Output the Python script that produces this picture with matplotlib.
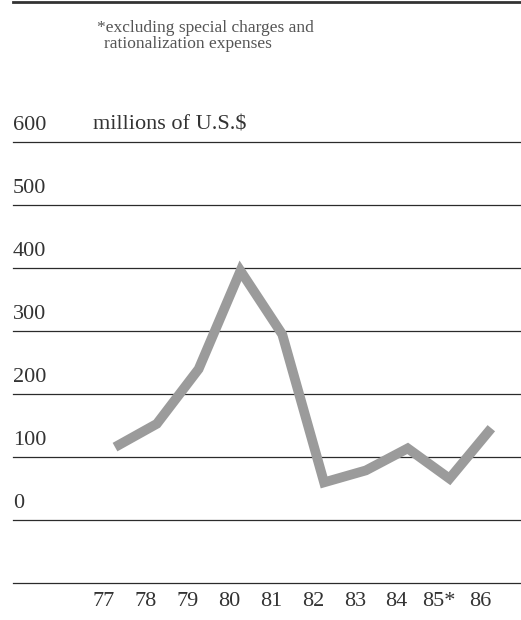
import matplotlib
matplotlib.use("Agg")
import matplotlib.pyplot as plt
from matplotlib.lines import Line2D

# data
years = ["77", "78", "79", "80", "81", "82", "83", "84", "85*", "86"]
values = [115, 152, 239, 395, 294, 59, 78, 113, 65, 145]
yticks = [-100, 0, 100, 200, 300, 400, 500, 600]
ylabels = ["", "0", "100", "200", "300", "400", "500", "600"]

plt.rcParams["font.family"] = ["Liberation Serif", "DejaVu Serif"]
W, H = 521, 620

fig = plt.figure(figsize=(W / 100, H / 100), dpi=100)
ax = fig.add_axes([13 / W, (H - 582.5) / H, 508 / W, (582.5 - 141.7) / H])
ax.set_xlim(-2.44, 9.71)
ax.set_ylim(-100, 600)
ax.axis("off")

for t in yticks:
    ax.axhline(t, color="#2b2b2b", lw=0.9, clip_on=False)

for t, lab in zip(yticks, ylabels):
    if lab:
        ax.annotate(lab, xy=(0, t), xycoords=("axes fraction", "data"),
                    xytext=(0, 5), textcoords="offset points",
                    ha="left", va="bottom", fontsize=16, color="#333333")

ax.annotate("millions of U.S.$", xy=((93 - 13) / 508, 600),
            xycoords=("axes fraction", "data"), xytext=(0, 5),
            textcoords="offset points", ha="left", va="bottom",
            fontsize=16, color="#333333")

x = list(range(len(years)))
ax.plot(x, values, color="#9b9b9b", lw=7,
        solid_joinstyle="miter", solid_capstyle="butt")

for xi, lab in zip(x, years):
    ax.annotate(lab, xy=(xi, -100), xycoords="data",
                xytext=(-8, -7), textcoords="offset points",
                ha="center", va="top", fontsize=16, color="#333333")

fig.add_artist(Line2D([13 / W, 1], [1 - 1.5 / H, 1 - 1.5 / H],
                      transform=fig.transFigure, color="#333333", lw=2))

fig.text(97 / W, 1 - 20 / H, "*excluding special charges and",
         ha="left", va="top", fontsize=12.5, color="#555555")
fig.text(104 / W, 1 - 36 / H, "rationalization expenses",
         ha="left", va="top", fontsize=12.5, color="#555555")

fig.savefig("out.png", dpi=100)
